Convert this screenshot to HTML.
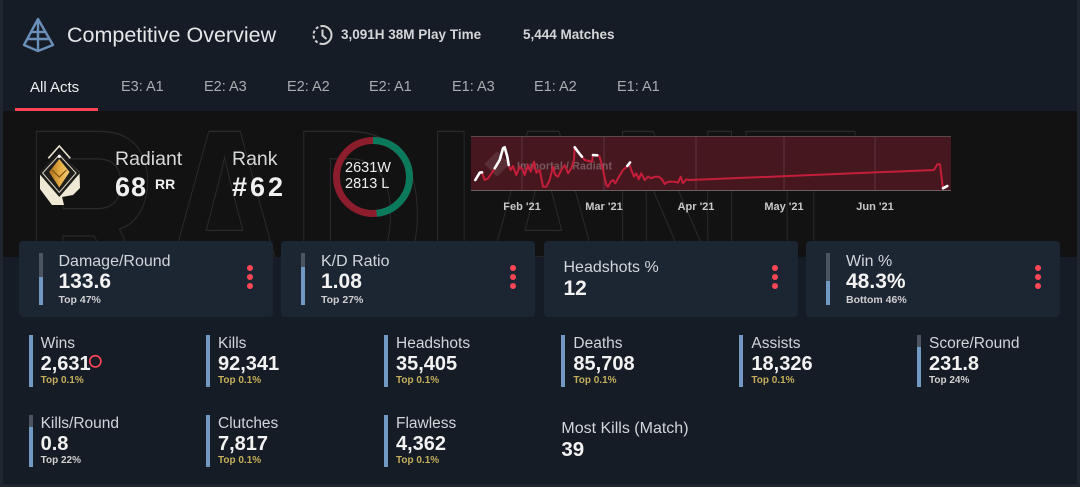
<!DOCTYPE html>
<html><head><meta charset="utf-8">
<style>
*{margin:0;padding:0;box-sizing:border-box}
html,body{width:1080px;height:487px;overflow:hidden;background:#1f2630;font-family:"Liberation Sans",Arial,sans-serif}
#main{position:absolute;left:3px;top:0;width:1074px;height:484px;background:#161c25}
.t{position:absolute;white-space:nowrap;line-height:1}
.b{font-weight:bold}
#band{position:absolute;left:3px;top:111px;width:1074px;height:146px;background:#121212;overflow:hidden}
.card{position:absolute;top:241px;width:254px;height:76px;background:#1c2633;border-radius:4px}
.bar{position:absolute;width:4px;background:#7199c4}
.bar i{position:absolute;left:0;top:0;width:4px;background:#4b5460;display:block}
.dot{position:absolute;width:6px;height:6px;border-radius:50%;background:#ff4655}
.ct{font-size:16px;color:#d2d5d9}
.cv{font-size:21px;font-weight:bold;color:#f2f2f2}
.cs{font-size:10.5px;font-weight:bold;color:#cfcfcf}
.st{font-size:15.5px;color:#d2d5d9}
.sv{font-size:20px;font-weight:bold;color:#f2f2f2}
.ss{font-size:10px;font-weight:bold;color:#c4ae5c}
.tab{font-size:14.5px;color:#a9acb0;top:80.4px}
</style></head><body>
<div id="main"></div>

<!-- header -->
<svg style="position:absolute;left:0;top:0" width="360" height="60">
  <g fill="none" stroke="#6a8fb8" stroke-width="2.4" stroke-linejoin="round">
    <path d="M38 19 L24 45 L38 51 L53 45 Z"/>
    <path d="M38 19 L38 51"/>
    <path d="M31 32 L45 32"/>
    <path d="M27 39 L49 39"/>
  </g>
  <g fill="none" stroke="#d2d2d2" stroke-width="2">
    <path d="M322.5 26 A9 9 0 0 1 322.5 44"/>
    <path d="M322.5 44 A9 9 0 0 1 322.5 26" stroke-dasharray="3 2.2"/>
    <path d="M322.5 29.5 L322.5 35.5 L326.5 39"/>
  </g>
</svg>
<div class="t" style="left:67px;top:24.8px;font-size:21.5px;color:#e4e6e8">Competitive Overview</div>
<div class="t b" style="left:341px;top:27.6px;font-size:13.5px;color:#d4d6d8">3,091H 38M Play Time</div>
<div class="t b" style="left:523px;top:27.6px;font-size:13.5px;color:#d4d6d8">5,444 Matches</div>

<!-- tabs -->
<div class="t" style="left:30px;top:80px;font-size:15px;color:#eceeef">All Acts</div>
<div class="t tab" style="left:121px">E3: A1</div>
<div class="t tab" style="left:204px">E2: A3</div>
<div class="t tab" style="left:287px">E2: A2</div>
<div class="t tab" style="left:369px">E2: A1</div>
<div class="t tab" style="left:452px">E1: A3</div>
<div class="t tab" style="left:534px">E1: A2</div>
<div class="t tab" style="left:617px">E1: A1</div>
<div style="position:absolute;left:15px;top:108px;width:83px;height:3px;background:#ff4655"></div>

<!-- dark band -->
<div id="band">
  <svg width="1074" height="146" style="position:absolute;left:0;top:0">
    <text x="21" y="189" font-family="Liberation Sans, Arial, sans-serif" font-weight="bold" font-size="245" textLength="833" lengthAdjust="spacingAndGlyphs" fill="none" stroke="#2a2a2a" stroke-width="1.3">RADIANT</text>
  </svg>
</div>

<!-- overlay graphics: rank icon, donut, chart -->
<svg style="position:absolute;left:0;top:0" width="1080" height="240">
  <defs>
    <linearGradient id="gold" x1="0" y1="0" x2="1" y2="0">
      <stop offset="0" stop-color="#a8701e"/>
      <stop offset="0.5" stop-color="#e3a83e"/>
      <stop offset="1" stop-color="#f6d27a"/>
    </linearGradient>
  </defs>
  <!-- rank icon -->
  <polyline points="48.3,158.3 59.3,146 70.3,158.3" fill="none" stroke="#e8e2cc" stroke-width="1.6"/>
  <polygon points="40,172 59.3,152 79.5,172 80,188 73,195 62,197 64,205 52,205 40,189" fill="#eee8d4"/>
  <polygon points="59.3,150.5 80,173 59.3,197 38.6,173" fill="#1e1d1b"/>
  <polygon points="59.3,155 76,173 59.3,192.5 42.6,173" fill="none" stroke="#d8d2c0" stroke-width="1"/>
  <polygon points="59.3,159 69.5,172 59.3,187.5 49.1,172" fill="url(#gold)"/>
  <polyline points="52,170 59.3,177 66.5,170" fill="none" stroke="#7a5010" stroke-width="1.2"/>
  <circle cx="59.3" cy="156.5" r="1.5" fill="#ffffff"/>

  <!-- donut -->
  <circle cx="373" cy="177" r="36.5" fill="none" stroke="#8b1d2c" stroke-width="7"/>
  <circle cx="373" cy="177" r="36.5" fill="none" stroke="#0b7a5c" stroke-width="7" stroke-dasharray="110.8 300" transform="rotate(-90 373 177)"/>

  <!-- chart -->
  <rect x="471" y="136.5" width="480" height="54" fill="#47171f"/>
  <line x1="471" y1="136.5" x2="951" y2="136.5" stroke="#5a4a4c" stroke-width="1"/>
  <line x1="471" y1="190.5" x2="951" y2="190.5" stroke="#6a6063" stroke-width="1"/>
  <g stroke="rgba(255,255,255,0.13)" stroke-width="1">
    <line x1="522" y1="137" x2="522" y2="190"/>
    <line x1="604" y1="137" x2="604" y2="190"/>
    <line x1="696" y1="137" x2="696" y2="190"/>
    <line x1="784" y1="137" x2="784" y2="190"/>
    <line x1="875" y1="137" x2="875" y2="190"/>
  </g>
  <rect x="488" y="155" width="18" height="18" fill="rgba(255,255,255,0.1)" transform="rotate(45 497 164)"/>
  <text x="517" y="169.5" font-family="Liberation Sans, Arial, sans-serif" font-weight="bold" font-size="10.6" textLength="95" fill="rgba(255,255,255,0.28)">Immortal / Radiant</text>
  <polyline fill="none" stroke="#c41e3a" stroke-width="2" stroke-linejoin="round" points="475.3,180 479.7,172.7 482,172.3 484.7,180 488,178.3 492,172.7 494.7,168.3 499.7,160 503,148.3 504.7,147.3 507.3,156.7 508.7,165 510.7,170 513,166 516.3,175 519.7,166.7 523,170 524.7,175 528,165 530.7,171.7 534,161.7 536.3,172.7 539.7,170 543,186.7 546.3,186.7 549.7,180 553,166.7 555.3,175 558,176.7 561.3,170 564.7,165 568,173.3 571.3,168.3 574,160 574.7,147.3 579.7,154 582,156.7 584.7,160 592,161.7 593,155 597.3,155.3 599.7,156.7 603,170 606.3,185 608,186.7 610.7,181.7 613,180 615.3,183.3 618,178.3 623,170 626.3,167.3 629,163.3 631.3,170 634,176.7 636.3,173.3 638.7,179.3 641.3,173.3 644.7,180 648,176.7 651.3,178.3 654.7,176.7 658.7,176.7 662,179.3 664.7,184 668,181.7 674.7,181.7 678,182.7 680.7,176.7 683,183.3 686.3,179.3 688.7,180 708,179.3 934,170 937.3,164.3 940,164.3 942.7,187"/>
  <g fill="none" stroke="#ffffff" stroke-width="2.6" stroke-linecap="round" stroke-linejoin="round">
    <polyline points="475.3,180 479.7,172.7 482,172.3"/>
    <polyline points="494.7,168.3 499.7,160 503,148.3 504.7,147.3 507.3,156.7 508.7,165"/>
    <polyline points="574.7,147.3 579.7,154 582,156.7"/>
    <polyline points="593,155 597.3,155.3"/>
    <polyline points="627.3,166 630,162.5"/>
    <polyline points="943,188.3 947.3,186"/>
  </g>
  <g font-family="Liberation Sans, Arial, sans-serif" font-weight="bold" font-size="11" fill="#c9c9c9" text-anchor="middle">
    <text x="522" y="210">Feb '21</text>
    <text x="604" y="210">Mar '21</text>
    <text x="696" y="210">Apr '21</text>
    <text x="784" y="210">May '21</text>
    <text x="875" y="210">Jun '21</text>
  </g>
</svg>

<!-- rank text -->
<div class="t" style="left:115px;top:149.5px;font-size:19.5px;color:#d6d8da">Radiant</div>
<div class="t b" style="left:115px;top:174.1px;font-size:27px;color:#f0f0f0;letter-spacing:1px">68</div>
<div class="t b" style="left:155px;top:177.2px;font-size:14px;color:#f0f0f0">RR</div>
<div class="t" style="left:232px;top:149.5px;font-size:19.5px;color:#d6d8da">Rank</div>
<div class="t b" style="left:232px;top:174.1px;font-size:27px;color:#f0f0f0;letter-spacing:3px">#62</div>
<div class="t" style="left:345px;top:161.2px;font-size:14.5px;color:#eeeeee">2631W</div>
<div class="t" style="left:345px;top:176.7px;font-size:14.5px;color:#eeeeee">2813 L</div>

<!-- cards -->
<div class="card" style="left:19px">
  <div class="bar" style="left:20px;top:12px;height:52px"><i style="height:24px"></i></div>
  <div class="t ct" style="left:39.5px;top:12.5px">Damage/Round</div>
  <div class="t cv" style="left:39.5px;top:30.2px">133.6</div>
  <div class="t cs" style="left:39.5px;top:53.6px">Top 47%</div>
  <div class="dot" style="left:228px;top:23.8px"></div>
  <div class="dot" style="left:228px;top:32.5px"></div>
  <div class="dot" style="left:228px;top:41.5px"></div>
</div>
<div class="card" style="left:281px">
  <div class="bar" style="left:20px;top:12px;height:52px"><i style="height:14px"></i></div>
  <div class="t ct" style="left:40px;top:12.5px">K/D Ratio</div>
  <div class="t cv" style="left:40px;top:30.2px">1.08</div>
  <div class="t cs" style="left:40px;top:53.6px">Top 27%</div>
  <div class="dot" style="left:228.5px;top:23.8px"></div>
  <div class="dot" style="left:228.5px;top:32.5px"></div>
  <div class="dot" style="left:228.5px;top:41.5px"></div>
</div>
<div class="card" style="left:544px">
  <div class="t ct" style="left:19.5px;top:18.5px">Headshots %</div>
  <div class="t cv" style="left:19.5px;top:37.2px">12</div>
  <div class="dot" style="left:228px;top:23.8px"></div>
  <div class="dot" style="left:228px;top:32.5px"></div>
  <div class="dot" style="left:228px;top:41.5px"></div>
</div>
<div class="card" style="left:806px">
  <div class="bar" style="left:20px;top:12px;height:52px"><i style="height:28px"></i></div>
  <div class="t ct" style="left:40px;top:12.5px">Win %</div>
  <div class="t cv" style="left:40px;top:30.2px">48.3%</div>
  <div class="t cs" style="left:40px;top:53.6px">Bottom 46%</div>
  <div class="dot" style="left:228.5px;top:23.8px"></div>
  <div class="dot" style="left:228.5px;top:32.5px"></div>
  <div class="dot" style="left:228.5px;top:41.5px"></div>
</div>

<!-- stats row 1 -->
<div class="bar" style="left:29px;top:335px;height:52px"></div>
<div class="t st" style="left:40.6px;top:335.9px">Wins</div>
<div class="t sv" style="left:40.6px;top:354.1px">2,631</div>
<div class="t ss" style="left:40.6px;top:376px">Top 0.1%</div>
<svg style="position:absolute;left:87px;top:353px" width="17" height="17"><circle cx="8.3" cy="8.3" r="5.6" fill="none" stroke="#ff4655" stroke-width="1.6"/></svg>

<div class="bar" style="left:206px;top:335px;height:52px"></div>
<div class="t st" style="left:218px;top:335.9px">Kills</div>
<div class="t sv" style="left:218px;top:354.1px">92,341</div>
<div class="t ss" style="left:218px;top:376px">Top 0.1%</div>

<div class="bar" style="left:384px;top:335px;height:52px"></div>
<div class="t st" style="left:396px;top:335.9px">Headshots</div>
<div class="t sv" style="left:396px;top:354.1px">35,405</div>
<div class="t ss" style="left:396px;top:376px">Top 0.1%</div>

<div class="bar" style="left:561px;top:335px;height:52px"></div>
<div class="t st" style="left:573.4px;top:335.9px">Deaths</div>
<div class="t sv" style="left:573.4px;top:354.1px">85,708</div>
<div class="t ss" style="left:573.4px;top:376px">Top 0.1%</div>

<div class="bar" style="left:739.4px;top:335px;height:52px"></div>
<div class="t st" style="left:751.4px;top:335.9px">Assists</div>
<div class="t sv" style="left:751.4px;top:354.1px">18,326</div>
<div class="t ss" style="left:751.4px;top:376px">Top 0.1%</div>

<div class="bar" style="left:917.4px;top:335px;height:52px"><i style="height:12px"></i></div>
<div class="t st" style="left:929px;top:335.9px">Score/Round</div>
<div class="t sv" style="left:929px;top:354.1px">231.8</div>
<div class="t ss" style="left:929px;top:376px;color:#d2d2d2">Top 24%</div>

<!-- stats row 2 -->
<div class="bar" style="left:29px;top:415px;height:52px"><i style="height:12px"></i></div>
<div class="t st" style="left:40.6px;top:415.9px">Kills/Round</div>
<div class="t sv" style="left:40.6px;top:434.1px">0.8</div>
<div class="t ss" style="left:40.6px;top:456px;color:#d2d2d2">Top 22%</div>

<div class="bar" style="left:206px;top:415px;height:52px"></div>
<div class="t st" style="left:218px;top:415.9px">Clutches</div>
<div class="t sv" style="left:218px;top:434.1px">7,817</div>
<div class="t ss" style="left:218px;top:456px">Top 0.1%</div>

<div class="bar" style="left:384px;top:415px;height:52px"></div>
<div class="t st" style="left:396px;top:415.9px">Flawless</div>
<div class="t sv" style="left:396px;top:434.1px">4,362</div>
<div class="t ss" style="left:396px;top:456px">Top 0.1%</div>

<div class="t" style="left:561.4px;top:420.5px;font-size:16px;color:#d2d5d9">Most Kills (Match)</div>
<div class="t sv" style="left:561.4px;top:439.6px;font-size:20.5px">39</div>
</body></html>
